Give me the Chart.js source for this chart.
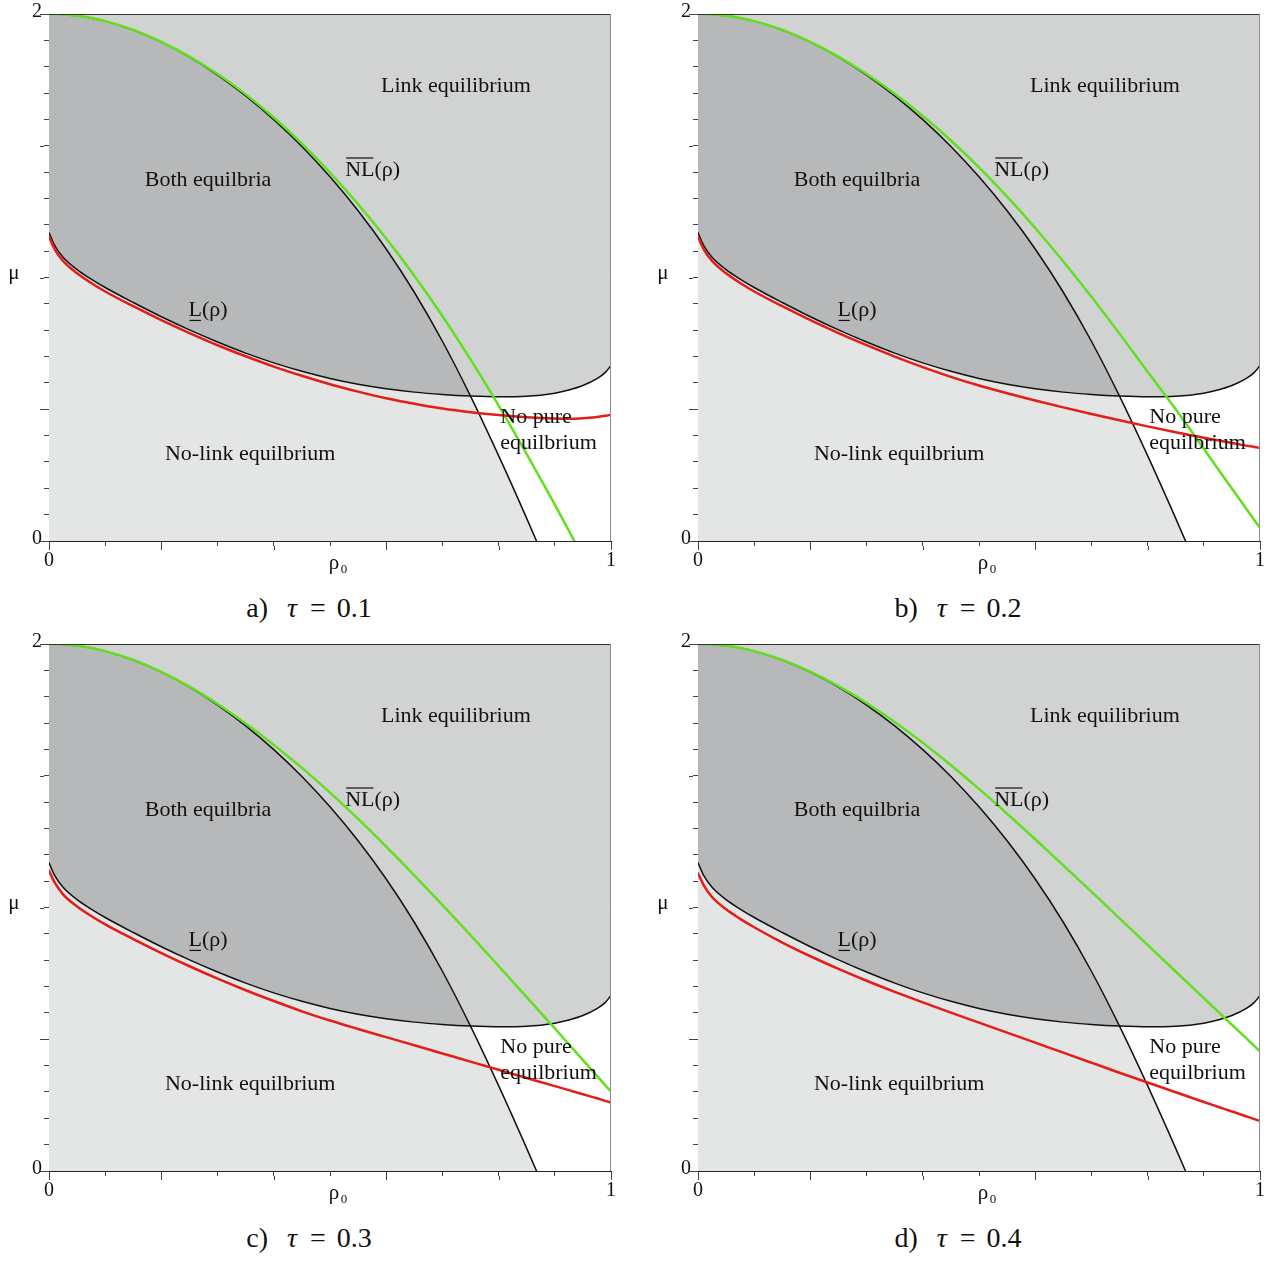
<!DOCTYPE html>
<html>
<head>
<meta charset="utf-8">
<script src="https://cdn.jsdelivr.net/npm/chart.js@4.4.1/dist/chart.umd.min.js"></script>
<style>
  html, body { margin: 0; padding: 0; background: #fff; width: 1273px; height: 1261px; overflow: hidden; }
  canvas { position: absolute; }
  .cap { position: absolute; transform: translate(-50%, -50%); font-family: "Liberation Serif", "DejaVu Serif", serif;
         font-size: 28px; color: #111; white-space: nowrap; }
  .cap i { margin-left: 12px; }
  .cap .eq { margin: 0 11px 0 13px; }
</style>
</head>
<body>
<canvas id="pa" width="620" height="590"></canvas>
<canvas id="pb" width="620" height="590"></canvas>
<canvas id="pc" width="620" height="590"></canvas>
<canvas id="pd" width="620" height="590"></canvas>
<div class="cap" id="ca">a) <i>τ</i><span class="eq">=</span>0.1</div>
<div class="cap" id="cb">b) <i>τ</i><span class="eq">=</span>0.2</div>
<div class="cap" id="cc">c) <i>τ</i><span class="eq">=</span>0.3</div>
<div class="cap" id="cd">d) <i>τ</i><span class="eq">=</span>0.4</div>
<script>
// Sample grid of ρ0 values
const rho = [0, 0.01, 0.025, 0.05, 0.075, 0.1, 0.15, 0.2, 0.25, 0.3, 0.35, 0.4, 0.45, 0.5,
             0.55, 0.6, 0.65, 0.7, 0.75, 0.8, 0.85, 0.9, 0.925, 0.95, 0.975, 0.99, 1.0];

// Black boundary NL(ρ): no-link equilibrium exists below it (same in all panels)
const nlBound = [2.0, 2.0, 1.998, 1.993, 1.985, 1.973, 1.939, 1.893, 1.836, 1.768, 1.689, 1.599, 1.497, 1.382,
                 1.253, 1.108, 0.944, 0.758, 0.55, 0.324, 0.086, -0.16, -0.285, -0.41, -0.537, -0.614, -0.665];

// Black boundary L(ρ): link equilibrium exists above it (same in all panels)
const lBound = [1.17, 1.122, 1.077, 1.03, 0.994, 0.962, 0.905, 0.851, 0.801, 0.755, 0.713, 0.676, 0.644, 0.617,
                0.595, 0.578, 0.565, 0.556, 0.55, 0.547, 0.549, 0.561, 0.573, 0.59, 0.616, 0.64, 0.666];

// Green curve  \overline{NL}(ρ) for τ = 0.1 … 0.4
const greenTau01 = [2.0, 2.0, 1.998, 1.993, 1.985, 1.973, 1.94, 1.894, 1.838, 1.772, 1.695, 1.607, 1.508, 1.398,
                    1.278, 1.148, 1.007, 0.854, 0.689, 0.514, 0.33, 0.138, 0.039, -0.061, -0.163, -0.225, -0.267];
const greenTau02 = [2.0, 2.0, 1.998, 1.993, 1.985, 1.973, 1.94, 1.894, 1.838, 1.772, 1.697, 1.613, 1.52, 1.418,
                    1.307, 1.188, 1.061, 0.927, 0.787, 0.642, 0.50, 0.35, 0.274, 0.199, 0.124, 0.079, 0.05];
const greenTau03 = [2.0, 2.0, 1.998, 1.993, 1.985, 1.973, 1.94, 1.894, 1.838, 1.772, 1.698, 1.617, 1.53, 1.436,
                    1.336, 1.231, 1.122, 1.01, 0.895, 0.778, 0.66, 0.541, 0.481, 0.421, 0.361, 0.325, 0.301];
const greenTau04 = [2.0, 2.0, 1.998, 1.993, 1.985, 1.973, 1.94, 1.895, 1.84, 1.776, 1.704, 1.625, 1.54, 1.45,
                    1.356, 1.259, 1.16, 1.06, 0.959, 0.858, 0.757, 0.656, 0.606, 0.555, 0.505, 0.474, 0.454];

// Red curve  \underline{L}(ρ) for τ = 0.1 … 0.4
const redTau01 = [1.155, 1.108, 1.063, 1.016, 0.979, 0.947, 0.891, 0.838, 0.789, 0.743, 0.701, 0.662, 0.627, 0.595,
                  0.567, 0.542, 0.521, 0.503, 0.489, 0.478, 0.47, 0.465, 0.464, 0.466, 0.471, 0.475, 0.479];
const redTau02 = [1.155, 1.108, 1.063, 1.016, 0.979, 0.947, 0.891, 0.838, 0.789, 0.743, 0.70, 0.66, 0.623, 0.59,
                  0.561, 0.533, 0.507, 0.482, 0.458, 0.435, 0.413, 0.392, 0.382, 0.372, 0.362, 0.357, 0.353];
const redTau03 = [1.14, 1.095, 1.05, 1.004, 0.968, 0.936, 0.88, 0.827, 0.777, 0.73, 0.686, 0.645, 0.606, 0.571,
                  0.539, 0.508, 0.477, 0.446, 0.415, 0.384, 0.353, 0.322, 0.307, 0.291, 0.276, 0.266, 0.26];
const redTau04 = [1.13, 1.085, 1.04, 0.993, 0.957, 0.925, 0.867, 0.815, 0.767, 0.722, 0.68, 0.64, 0.601, 0.563,
                  0.525, 0.487, 0.449, 0.411, 0.373, 0.336, 0.299, 0.262, 0.244, 0.226, 0.208, 0.197, 0.19];

// Axis tick positions and labels
const xTicks = [0, 0.1, 0.2, 0.3, 0.4, 0.5, 0.6, 0.7, 0.8, 0.9, 1];
const xMajor = [0, 0.2, 0.4, 0.6, 0.8, 1];
const xTickLabels = { 0: '0', 1: '1' };
const yTicks = [0, 0.1, 0.2, 0.3, 0.4, 0.5, 0.6, 0.7, 0.8, 0.9, 1, 1.1, 1.2, 1.3, 1.4, 1.5, 1.6, 1.7, 1.8, 1.9, 2];
const yMajor = [0, 0.5, 1, 1.5, 2];
const yTickLabels = { 0: '0', 2: '2' };

// Region annotations: [text, ρ, μ, align]
const regionLabels = [
  ['Link equilibrium', 0.724, 1.726, 'center'],
  ['Both equilbria', 0.283, 1.37, 'center'],
  ['No-link equilbrium', 0.358, 0.330, 'center'],
  ['No pure', 0.803, 0.469, 'left'],
  ['equilbrium', 0.803, 0.371, 'left']
];
const nlLabelPos = [0.527, 1.408];
const lLabelPos = [0.283, 0.875];

const panels = [
  { canvas: 'pa', caption: 'ca', green: greenTau01, red: redTau01 },
  { canvas: 'pb', caption: 'cb', green: greenTau02, red: redTau02 },
  { canvas: 'pc', caption: 'cc', green: greenTau03, red: redTau03 },
  { canvas: 'pd', caption: 'cd', green: greenTau04, red: redTau04 }
];
const placement = [
  { left: 0, top: 0, capX: 309, capY: 608 },
  { left: 649, top: 0, capX: 958, capY: 608 },
  { left: 0, top: 630, capX: 309, capY: 1238 },
  { left: 649, top: 630, capX: 958, capY: 1238 }
];

const COLORS = {
  link: '#d1d2d2',
  both: '#b6b8b9',
  noLink: '#e4e5e5',
  black: '#111111',
  red: '#e41d17',
  green: '#62e01e'
};
const SERIF = '"Liberation Serif", "DejaVu Serif", serif';

const pts = vals => rho.map((r, i) => ({ x: r, y: vals[i] }));

const decor = {
  id: 'decor',
  afterDraw(chart) {
    const { ctx, chartArea: a, scales: { x, y } } = chart;
    ctx.save();
    // frame on the top and right side
    ctx.lineWidth = 1;
    ctx.strokeStyle = '#333';
    ctx.beginPath(); ctx.moveTo(a.left, a.top + 0.5); ctx.lineTo(a.right, a.top + 0.5); ctx.stroke();
    ctx.strokeStyle = '#8c8c8c';
    ctx.beginPath(); ctx.moveTo(a.right - 0.5, a.top); ctx.lineTo(a.right - 0.5, a.bottom); ctx.stroke();
    // longer major tick marks
    ctx.strokeStyle = '#444';
    xMajor.forEach(v => {
      const px = Math.round(x.getPixelForValue(v)) + 0.5;
      ctx.beginPath(); ctx.moveTo(px, a.bottom + 5); ctx.lineTo(px, a.bottom + 9); ctx.stroke();
    });
    yMajor.forEach(v => {
      const py = Math.round(y.getPixelForValue(v)) + 0.5;
      ctx.beginPath(); ctx.moveTo(a.left - 5, py); ctx.lineTo(a.left - 9, py); ctx.stroke();
    });
    // axis names
    ctx.fillStyle = '#111';
    ctx.textBaseline = 'middle';
    ctx.textAlign = 'center';
    ctx.font = '21px ' + SERIF;
    ctx.fillText('μ', a.left - 35, y.getPixelForValue(1) - 4);
    const rx = x.getPixelForValue(0.5) + 4;
    ctx.fillText('ρ', rx, a.bottom + 22);
    ctx.font = '13px ' + SERIF;
    ctx.fillText('0', rx + 10, a.bottom + 29);
    // region annotations
    ctx.font = '22px ' + SERIF;
    regionLabels.forEach(([t, r, m, al]) => {
      ctx.textAlign = al;
      ctx.fillText(t, x.getPixelForValue(r), y.getPixelForValue(m));
    });
    // \overline{NL}(ρ)
    ctx.textAlign = 'left';
    let lx = x.getPixelForValue(nlLabelPos[0]);
    let ly = y.getPixelForValue(nlLabelPos[1]);
    ctx.fillText('NL(ρ)', lx, ly);
    const wNL = ctx.measureText('NL').width;
    ctx.strokeStyle = '#111';
    ctx.lineWidth = 1.2;
    ctx.beginPath(); ctx.moveTo(lx + 1, ly - 12); ctx.lineTo(lx + wNL - 1, ly - 12); ctx.stroke();
    // \underline{L}(ρ)
    ctx.textAlign = 'center';
    lx = x.getPixelForValue(lLabelPos[0]);
    ly = y.getPixelForValue(lLabelPos[1]);
    ctx.fillText('L(ρ)', lx, ly);
    const wAll = ctx.measureText('L(ρ)').width;
    const wL = ctx.measureText('L').width;
    const l0 = lx - wAll / 2;
    ctx.beginPath(); ctx.moveTo(l0 + 1, ly + 10); ctx.lineTo(l0 + wL - 1, ly + 10); ctx.stroke();
    ctx.restore();
  }
};

panels.forEach((p, k) => {
  const pos = placement[k];
  const cv = document.getElementById(p.canvas);
  cv.style.left = pos.left + 'px';
  cv.style.top = pos.top + 'px';
  const cap = document.getElementById(p.caption);
  cap.style.left = pos.capX + 'px';
  cap.style.top = pos.capY + 'px';

  const hidden = { borderWidth: 0, pointRadius: 0, borderColor: 'rgba(0,0,0,0)' };
  new Chart(cv, {
    type: 'line',
    data: {
      datasets: [
        // 0: both equilibria (between L below and NL above)
        Object.assign({ label: 'both', data: pts(nlBound), order: 10,
          fill: { target: 3, above: COLORS.both, below: 'rgba(0,0,0,0)' } }, hidden),
        // 1: no-link region (below NL)
        Object.assign({ label: 'noLink', data: pts(nlBound), order: 11,
          fill: 'origin', backgroundColor: COLORS.noLink }, hidden),
        // 2: link region (above L)
        Object.assign({ label: 'link', data: pts(lBound), order: 12,
          fill: 'end', backgroundColor: COLORS.link }, hidden),
        // 3: L(ρ) boundary
        { label: 'L', data: pts(lBound), order: 3, fill: false,
          borderColor: COLORS.black, borderWidth: 1.5 },
        // 4: NL(ρ) boundary
        { label: 'NL', data: pts(nlBound), order: 3, fill: false,
          borderColor: COLORS.black, borderWidth: 1.5 },
        // 5: red curve
        { label: 'red', data: pts(p.red), order: 1, fill: false,
          borderColor: COLORS.red, borderWidth: 2.5 },
        // 6: green curve
        { label: 'green', data: pts(p.green), order: 2, fill: false,
          borderColor: COLORS.green, borderWidth: 2.5 }
      ]
    },
    options: {
      responsive: false,
      animation: false,
      events: [],
      layout: { padding: { top: 8, right: 9, left: 0, bottom: 9 } },
      elements: {
        point: { radius: 0 },
        line: { cubicInterpolationMode: 'monotone', borderCapStyle: 'round', borderJoinStyle: 'round' }
      },
      plugins: {
        legend: { display: false },
        tooltip: { enabled: false },
        filler: { drawTime: 'beforeDatasetsDraw', propagate: false }
      },
      scales: {
        x: {
          type: 'linear', min: 0, max: 1,
          afterBuildTicks: s => { s.ticks = xTicks.map(v => ({ value: v })); },
          afterFit: s => { s.height = 40; },
          ticks: {
            autoSkip: false, maxRotation: 0, padding: 3, color: '#111',
            font: { family: SERIF, size: 20 },
            callback: v => xTickLabels[v] || ''
          },
          grid: { drawOnChartArea: false, tickLength: 5, color: '#444', lineWidth: 1 },
          border: { display: true, color: '#222', width: 1 }
        },
        y: {
          type: 'linear', min: 0, max: 2,
          afterBuildTicks: s => { s.ticks = yTicks.map(v => ({ value: v })); },
          afterFit: s => { s.width = 49; },
          ticks: {
            autoSkip: false, padding: 2, color: '#111', labelOffset: -2,
            font: { family: SERIF, size: 20 },
            callback: v => yTickLabels[v] || ''
          },
          grid: { drawOnChartArea: false, tickLength: 5, color: '#444', lineWidth: 1 },
          border: { display: true, color: '#222', width: 1 }
        }
      }
    },
    plugins: [decor]
  });
});
</script>
</body>
</html>
